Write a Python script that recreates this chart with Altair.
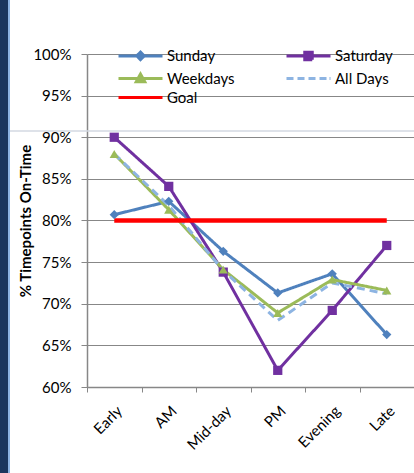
import altair as alt
import pandas as pd

# On-time performance by time period, per service day
categories = ["Early", "AM", "Mid-day", "PM", "Evening", "Late"]
sunday = [0.807, 0.823, 0.763, 0.713, 0.736, 0.663]
saturday = [0.900, 0.841, 0.738, 0.620, 0.692, 0.770]
weekdays = [0.880, 0.813, 0.741, 0.689, 0.729, 0.716]
all_days = [0.880, 0.818, 0.740, 0.680, 0.725, 0.712]
goal = [0.80] * len(categories)

series_names = ["Sunday", "Saturday", "Weekdays", "All Days", "Goal"]
series_colors = ["#4F81BD", "#7030A0", "#9BBB59", "#8DB4E2", "#FF0000"]
series_values = [sunday, saturday, weekdays, all_days, goal]

rows = []
for name, vals in zip(series_names, series_values):
    for cat, v in zip(categories, vals):
        rows.append({"Period": cat, "Series": name, "Value": v})
df = pd.DataFrame(rows)

FONT = "Lato"

# Legend glyphs: a line segment with the series marker on top
legend_shape = (
    "datum.value === 'Sunday' ? 'M-4.4,0H4.4M0,-0.75L0.75,0L0,0.75L-0.75,0Z' : "
    "datum.value === 'Saturday' ? 'M-4.4,0H4.4M-0.75,-0.75H0.75V0.75H-0.75Z' : "
    "datum.value === 'Weekdays' ? 'M-4.4,0H4.4M0,-0.9L0.85,0.65H-0.85Z' : "
    "datum.value === 'All Days' ? 'M-4.4,0H-3.0M-2.2,0H-0.8M0,0H1.4M2.2,0H3.6M4.2,0H4.4' : "
    "'M-4.4,0H4.4'"
)
legend_color = "scale('color', datum.value)"

color_scale = alt.Scale(domain=series_names, range=series_colors)
legend = alt.Legend(
    title=None,
    orient="none",
    direction="horizontal",
    legendX=46,
    legendY=-6,
    columns=2,
    columnPadding=45,
    rowPadding=2,
    padding=0,
    symbolSize=100,
    symbolType=alt.ExprRef(expr=legend_shape),
    symbolFillColor=alt.ExprRef(expr=legend_color),
    symbolStrokeColor=alt.ExprRef(expr=legend_color),
    symbolStrokeWidth=3,
    symbolOpacity=1,
    labelOffset=19,
    labelFont=FONT,
    labelFontSize=15,
    labelColor="#000000",
)

x_enc = alt.X(
    "Period:N",
    sort=categories,
    scale=alt.Scale(type="band", paddingInner=0, paddingOuter=0),
    axis=alt.Axis(
        title=None,
        labelAngle=-45,
        labelAlign="right",
        labelBaseline="middle",
        labelPadding=16,
        labelOffset=5,
        labelFont=FONT,
        labelFontSize=15,
        labelColor="#000000",
        tickBand="extent",
        tickSize=5,
        tickColor="#878787",
        domainColor="#878787",
        domainWidth=1.5,
        grid=False,
    ),
)
y_enc = alt.Y(
    "Value:Q",
    scale=alt.Scale(domain=[0.6, 1.0], nice=False, zero=False),
    axis=alt.Axis(
        title="% Timepoints On-Time",
        titleFont=FONT,
        titleFontSize=15,
        titleFontWeight="bold",
        titleColor="#000000",
        titlePadding=-1,
        format=".0%",
        values=[0.6, 0.65, 0.7, 0.75, 0.8, 0.85, 0.9, 0.95, 1.0],
        labelFont=FONT,
        labelFontSize=15,
        labelColor="#000000",
        labelPadding=10,
        tickSize=6,
        tickColor="#878787",
        domainColor="#878787",
        domainWidth=1.5,
        gridColor="#878787",
        gridWidth=1,
    ),
)

day_series = df[df["Series"] != "Goal"]
marked = df[df["Series"].isin(["Sunday", "Saturday", "Weekdays"])]

lines = (
    alt.Chart(day_series)
    .mark_line(strokeWidth=3)
    .encode(
        x=x_enc,
        y=y_enc,
        color=alt.Color("Series:N", scale=color_scale, legend=legend),
        strokeDash=alt.StrokeDash(
            "Series:N",
            scale=alt.Scale(domain=series_names, range=[[1, 0], [1, 0], [1, 0], [8, 5], [1, 0]]),
            legend=None,
        ),
    )
)

goal_line = (
    alt.Chart(df[df["Series"] == "Goal"])
    .mark_line(strokeWidth=4.5)
    .encode(
        x=x_enc,
        y=y_enc,
        color=alt.Color("Series:N", scale=color_scale, legend=legend),
    )
)

points = (
    alt.Chart(marked)
    .mark_point(filled=True, opacity=1, size=85)
    .encode(
        x=x_enc,
        y=y_enc,
        color=alt.Color("Series:N", scale=color_scale, legend=legend),
        shape=alt.Shape(
            "Series:N",
            scale=alt.Scale(
                domain=["Sunday", "Saturday", "Weekdays"],
                range=["diamond", "square", "triangle-up"],
            ),
            legend=None,
        ),
    )
)

# Page frame: dark band with a light edge on the left, thin rule along the bottom
frame_band = alt.Chart(df.head(1)).mark_rect(color="#1B365D").encode(
    x=alt.value(-87), x2=alt.value(-79), y=alt.value(-54), y2=alt.value(419)
)
frame_edge = alt.Chart(df.head(1)).mark_rect(color="#8DB4E2").encode(
    x=alt.value(-79), x2=alt.value(-77), y=alt.value(-54), y2=alt.value(419)
)
frame_rule = alt.Chart(df.head(1)).mark_rule(color="#D3D9E2", strokeWidth=1.5).encode(
    x=alt.value(-77), x2=alt.value(330), y=alt.value(77)
)

chart = (
    alt.layer(lines, goal_line, points, frame_band, frame_edge, frame_rule)
    .properties(
        width=327,
        height=333,
        padding={"left": 87, "top": 54, "right": 0, "bottom": 86},
        autosize=alt.AutoSizeParams(type="none"),
        background="#FFFFFF",
    )
    .configure_view(stroke=None)
)

chart.save("out.html", embed_options={"renderer": "svg", "actions": False})
